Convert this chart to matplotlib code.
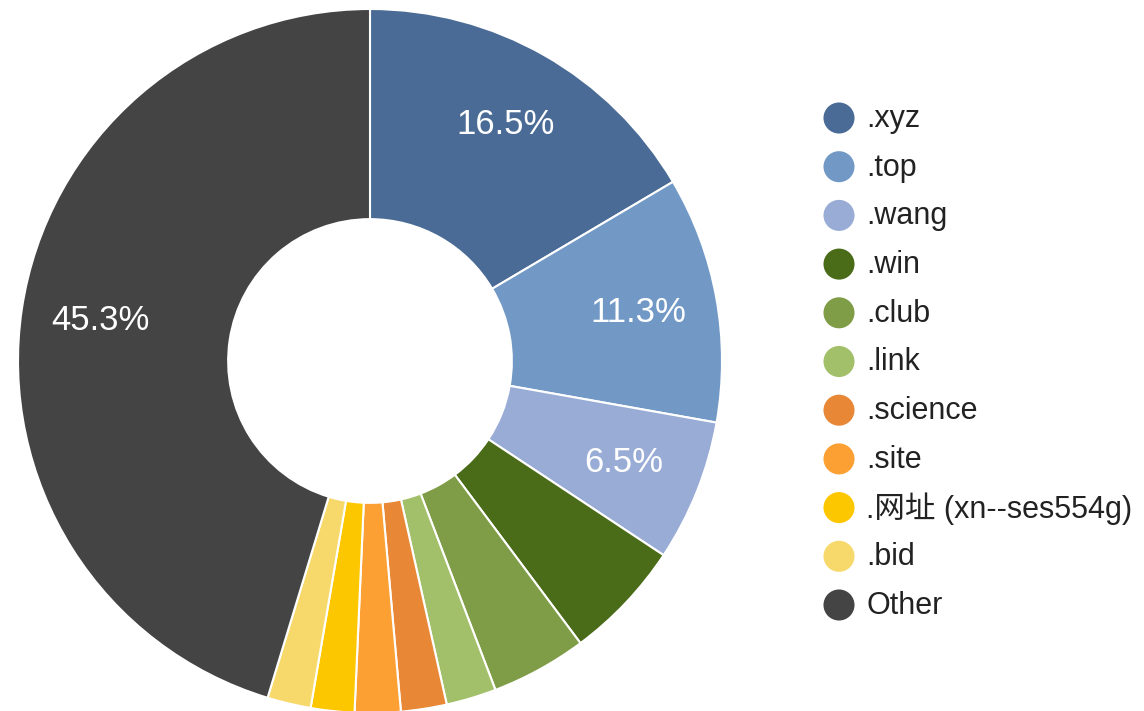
import numpy as np
import matplotlib.pyplot as plt

plt.rcParams['font.family'] = ['Liberation Sans', 'Noto Sans CJK SC', 'DejaVu Sans']

labels = ['.xyz', '.top', '.wang', '.win', '.club', '.link', '.science', '.site',
          '.网址 (xn--ses554g)', '.bid', 'Other']
values = [16.5, 11.3, 6.5, 5.5, 4.4, 2.3, 2.1, 2.1, 2.0, 2.0, 45.3]
colors = ['#4a6b96', '#7299c6', '#98acd6', '#4a6b18', '#7f9c47', '#a2c06a',
          '#e88836', '#fca034', '#fdc700', '#f7d96b', '#444444']

W, H = 1144, 711
fig = plt.figure(figsize=(W / 100, H / 100), dpi=100)

# legend drawn in pixel coordinates
lax = fig.add_axes([0, 0, 1, 1])
lax.set_xlim(0, W)
lax.set_ylim(H, 0)
lax.axis('off')
for i, (lab, c) in enumerate(zip(labels, colors)):
    y = 118 + i * 48.7
    lax.scatter([839], [y], s=500, color=c, edgecolors='none')
    lax.text(866, y + 1, lab, fontsize=22, color='#222222', va='center', ha='left')

# donut
cx, cy, r = 370, 361, 352
ax = fig.add_axes([(cx - r) / W, (H - cy - r) / H, 2 * r / W, 2 * r / H])
wedges, _ = ax.pie(values, colors=colors, startangle=90, counterclock=False,
                   wedgeprops=dict(width=0.597, edgecolor='white', linewidth=1.5))
total = sum(values)
ang = 90.0
for v in values:
    mid = ang - v / total * 180
    ang -= v / total * 360
    if v / total > 0.06:
        rad = np.deg2rad(mid)
        ax.text(0.775 * np.cos(rad), 0.775 * np.sin(rad), f'{v:.1f}%', color='white',
                fontsize=25, ha='center', va='center')
ax.set_xlim(-1, 1)
ax.set_ylim(-1, 1)
ax.set_aspect('equal')

fig.savefig('out.png', dpi=100)
